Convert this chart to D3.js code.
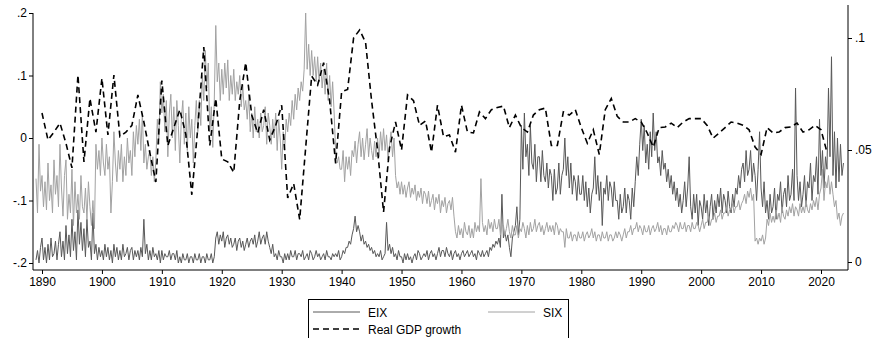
<!DOCTYPE html>
<html>
<head>
<meta charset="utf-8">
<script src="https://cdn.jsdelivr.net/npm/d3@7"></script>
<style>
  body { margin: 0; background: #fff; }
  svg { display: block; font-family: "Liberation Sans", Arial, sans-serif; }
  .tick text { font-size: 12px; fill: #000; }
  .tick line { stroke: #000; }
</style>
</head>
<body>
<svg id="chart" width="875" height="338"></svg>
<script>
// quarterly values, first one is 1889 Q1
var startYear = 1889;
var perYear = 4;

var eix = [
  -.195,-.180,-.200,-.175, -.160,-.195,-.175,-.200, -.170,-.195,-.160,-.190, -.185,-.165,-.195,-.170,
  -.150,-.190,-.165,-.195, -.140,-.185,-.155,-.190, -.130,-.180,-.150,-.195, -.115,-.170,-.135,-.180,
  -.145,-.190,-.130,-.175, -.165,-.195,-.120,-.185, -.170,-.195,-.175,-.190, // 1899
  -.180,-.195,-.170,-.190, -.175,-.195,-.180,-.200, -.170,-.190,-.175,-.195, -.180,-.195,-.170,-.190,
  -.185,-.175,-.195,-.180, -.175,-.195,-.180,-.190, -.180,-.195,-.175,-.190, -.130,-.185,-.170,-.195,
  -.180,-.195,-.175,-.190, -.185,-.195,-.180,-.200, // 1909
  -.180,-.195,-.185,-.190, -.190,-.180,-.195,-.185, -.185,-.195,-.180,-.200, -.190,-.200,-.185,-.195,
  -.195,-.185,-.200,-.190, -.190,-.200,-.185,-.195, -.195,-.185,-.200,-.190, -.190,-.200,-.185,-.195,
  -.195,-.185,-.200,-.190, -.160,-.150,-.170,-.155, // 1919
  -.165,-.150,-.175,-.160, -.155,-.170,-.160,-.175, -.170,-.160,-.180,-.165, -.160,-.175,-.165,-.180,
  -.170,-.160,-.175,-.165, -.160,-.170,-.155,-.175, -.165,-.150,-.170,-.160, -.155,-.170,-.150,-.165,
  -.175,-.185,-.170,-.190, -.185,-.195,-.180,-.190, // 1929
  -.190,-.200,-.185,-.195, -.185,-.195,-.180,-.190, -.190,-.180,-.195,-.185, -.185,-.190,-.180,-.195,
  -.190,-.185,-.195,-.180, -.185,-.195,-.190,-.180, -.190,-.185,-.195,-.190, -.185,-.195,-.180,-.190,
  -.190,-.195,-.185,-.190, -.185,-.190,-.180,-.195, // 1939
  -.190,-.180,-.185,-.175, -.175,-.165,-.170,-.155, -.145,-.125,-.150,-.140, -.150,-.165,-.155,-.170,
  -.165,-.175,-.170,-.180, -.175,-.185,-.180,-.190, -.185,-.190,-.180,-.195, -.190,-.185,-.135,-.180,
  -.170,-.185,-.175,-.190, -.185,-.195,-.180,-.190, // 1949
  -.190,-.200,-.185,-.195, -.185,-.195,-.190,-.200, -.190,-.185,-.195,-.180, -.185,-.195,-.190,-.185,
  -.190,-.180,-.195,-.185, -.180,-.190,-.185,-.195, -.185,-.175,-.190,-.180, -.180,-.190,-.175,-.185,
  -.190,-.180,-.195,-.185, -.180,-.190,-.185,-.195, // 1959
  -.185,-.180,-.190,-.185, -.180,-.190,-.185,-.180, -.190,-.185,-.195,-.180, -.185,-.190,-.180,-.190,
  -.185,-.180,-.190,-.175, -.180,-.170,-.175,-.165, -.170,-.160,-.175,-.090, -.160,-.150,-.165,-.155,
  -.175,-.190,-.160,-.150, -.140,-.110,-.155,-.130, // 1969
  .020,-.050,.040,-.030, -.010,-.060,.020,-.040, -.050,-.010,-.070,-.030, -.030,-.070,-.020,-.060,
  -.070,-.040,-.080,-.050, -.060,-.100,-.050,-.090, -.080,-.040,-.090,-.060, -.050,.000,-.060,-.030,
  -.080,-.040,-.090,-.060, -.070,-.100,-.060,-.090, // 1979
  -.090,-.060,-.100,-.070, -.110,-.080,-.120,-.090, -.080,-.030,-.090,-.060, -.100,-.070,-.140,-.080,
  -.090,-.060,-.100,-.070, -.080,-.110,-.070,-.100, -.100,-.130,-.090,-.120, -.110,-.080,-.120,-.090,
  -.100,-.130,-.080,-.110, -.070,-.030,-.060,-.010, // 1989
  .030,-.020,.020,-.040, -.010,-.050,.010,-.030, .040,-.020,.010,-.040, -.030,-.060,-.020,-.050,
  -.040,-.070,-.050,-.080, -.060,-.090,-.070,-.100, -.080,-.110,-.090,-.120, -.100,-.070,-.110,-.080,
  -.030,-.110,-.130,-.090, -.120,-.090,-.140,-.100, // 1999
  -.110,-.130,-.090,-.120, -.100,-.140,-.110,-.090, -.130,-.100,-.120,-.090, -.110,-.080,-.120,-.090,
  -.100,-.120,-.085,-.110, -.120,-.090,-.110,-.080, -.090,-.060,-.080,-.050, -.040,-.070,-.020,-.060,
  -.050,-.020,-.070,-.040, -.060,-.100,-.050,.010, // 2009
  -.080,-.110,-.070,-.120, -.100,-.130,-.090,-.120, -.110,-.080,-.130,-.090, -.100,-.070,-.120,-.090,
  -.080,-.110,-.060,-.100, -.090,-.050,-.100,.080, -.060,-.100,-.070,-.110, -.090,-.060,-.110,-.070,
  -.080,-.040,-.100,-.060, -.070,-.030,-.090,.030, // 2019
  -.060,-.020,-.080,-.030, -.050,.080,-.030,.130, -.060,.010,-.080,.000, -.070,-.010,-.060,-.040
];

var six = [
  -.065,-.120,-.010,-.085, -.060,-.110,-.070,-.115, -.040,-.100,-.075,-.120, -.035,-.090,-.060,-.110,
  -.010,-.080,-.125,-.060, -.035,-.130,-.090,-.120, -.050,-.140,-.070,-.120, -.090,-.130,-.060,-.110,
  -.120,-.080,-.130,-.070, -.110,-.140,-.100,-.145, -.010,-.050,-.020,-.060, // 1899
  .000,-.040,-.060,-.010, -.050,-.030,-.120,-.070, .010,-.040,-.070,-.020, -.050,-.010,-.070,-.030,
  -.060,.000,-.040,-.020, -.060,.010,-.030,.020, -.010,.030,-.020,.040, -.040,-.010,-.050,-.030,
  -.020,-.060,-.030,-.070, -.035,.030,-.010,.090, // 1909
  .040,.070,.010,.060, -.030,.040,.070,.000, .050,-.020,.060,.020, -.040,.030,.060,-.010,
  .040,-.020,.050,.000, .030,-.040,.020,.060, .010,.060,.020,.100, .060,.140,.080,.120,
  .010,.050,-.015,.060, .180,.090,.120,.060, // 1919
  .110,.070,.120,.080, .125,.060,.100,.070, .110,.060,.090,.070, .100,.050,.085,.045,
  .060,.030,.070,.010, .040,.000,.050,.010, .030,.000,.040,.010, .020,.050,-.010,.040,
  .020,-.010,.030,.000, .040,-.020,.030,.000, // 1929
  -.050,.010,-.020,.030, .010,.040,.020,.060, .030,.070,.045,.080, .060,.090,.075,.110,
  .200,.110,.150,.100, .140,.100,.130,.090, .130,.090,.120,.080, .110,.070,.120,.060,
  .100,.050,.090,.040, -.020,-.040,-.030,-.050, // 1939
  -.050,-.020,-.070,-.030, -.050,-.030,-.060,-.020, -.030,-.005,-.040,-.010, .010,-.030,.000,-.035,
  -.010,.015,-.030,.000, -.020,-.035,-.005,-.030, .000,-.030,.010,-.020, .015,-.020,.005,-.035,
  -.010,.010,-.030,.000, -.060,-.080,-.070,-.090, // 1949
  -.070,-.090,-.075,-.095, -.080,-.070,-.095,-.080, -.090,-.075,-.100,-.085, -.095,-.080,-.105,-.085,
  -.090,-.105,-.085,-.110, -.100,-.090,-.115,-.095, -.105,-.090,-.120,-.100, -.110,-.095,-.120,-.105,
  -.100,-.115,-.095,-.125, -.150,-.160,-.140,-.155, // 1959
  -.145,-.160,-.135,-.150, -.155,-.140,-.160,-.145, -.160,-.135,-.150,-.140, -.150,-.065,-.135,-.150,
  -.140,-.155,-.130,-.145, -.135,-.150,-.130,-.145, -.145,-.130,-.155,-.140, -.140,-.155,-.145,-.130,
  -.150,-.160,-.140,-.155, -.155,-.140,-.160,-.145, // 1969
  -.150,-.135,-.145,-.160, -.140,-.155,-.135,-.150, -.145,-.130,-.150,-.140, -.135,-.150,-.140,-.155,
  -.145,-.135,-.150,-.140, -.150,-.140,-.155,-.135, -.140,-.155,-.145,-.150, -.150,-.175,-.145,-.160,
  -.160,-.150,-.165,-.155, -.155,-.165,-.150,-.160, // 1979
  -.160,-.150,-.165,-.155, -.150,-.160,-.155,-.145, -.160,-.150,-.165,-.155, -.155,-.165,-.150,-.160,
  -.160,-.150,-.165,-.155, -.155,-.165,-.160,-.150, -.160,-.150,-.155,-.165, -.155,-.145,-.160,-.150,
  -.150,-.140,-.155,-.145, -.145,-.135,-.150,-.140, // 1989
  -.145,-.155,-.140,-.150, -.150,-.140,-.155,-.145, -.140,-.150,-.145,-.135, -.150,-.140,-.155,-.145,
  -.145,-.155,-.140,-.150, -.150,-.140,-.145,-.135, -.140,-.150,-.135,-.145, -.145,-.135,-.150,-.140,
  -.140,-.150,-.135,-.145, -.145,-.135,-.140,-.150, // 1999
  -.140,-.130,-.145,-.135, -.135,-.125,-.140,-.130, -.130,-.120,-.135,-.125, -.125,-.115,-.130,-.120,
  -.120,-.110,-.125,-.115, -.115,-.105,-.120,-.110, -.110,-.100,-.115,-.105, -.100,-.090,-.105,-.085,
  -.095,-.080,-.100,-.090, -.165,-.160,-.170,-.160, // 2009
  -.165,-.155,-.170,-.160, -.130,-.140,-.120,-.135, -.125,-.135,-.115,-.130, -.120,-.135,-.110,-.125,
  -.130,-.115,-.125,-.110, -.120,-.105,-.125,-.110, -.115,-.125,-.105,-.120, -.110,-.120,-.100,-.115,
  -.120,-.105,-.115,-.100, -.110,-.095,-.115,-.090, // 2019
  -.080,-.050,-.100,-.070, -.080,-.060,-.090,-.070, -.090,-.110,-.100,-.130, -.120,-.140,-.125,-.120
];

// annual real GDP growth, 1890-2021 (right axis)
var gdpStart = 1890;
var gdp = [
  .0665,.0545,.058,.062,.053,.042,.0835,.0447,.073,.058,
  .082,.0567,.0835,.056,.058,.061,.0746,.0625,.0487,.0357,
  .081,.052,.060,.068,.057,.030,.060,.096,.052,.073,
  .046,.0447,.040,.072,.089,.0656,.0576,.068,.0545,.061,
  .070,.0286,.035,.019,.051,.083,.079,.089,.072,.044,
  .076,.077,.100,.1036,.098,.072,.050,.0223,.051,.0625,
  .050,.0746,.072,.061,.063,.049,.070,.056,.0567,.049,
  .070,.058,.0576,.067,.064,.068,.069,.0696,.060,.0656,
  .060,.058,.0656,.068,.0687,.052,.052,.067,.0656,.068,
  .060,.053,.059,.048,.068,.073,.065,.0625,.0625,.064,
  .0625,.0576,.0513,.060,.0603,.062,.060,.0625,.064,.064,
  .064,.061,.0553,.0576,.060,.0625,.062,.061,.059,.0513,
  .048,.060,.0576,.058,.060,.0603,.062,.058,.059,.061,
  .059,.049
];

var yearTicks = d3.range(1890, 2021, 10);
var leftTicks = [-.2, -.1, 0, .1, .2];
var rightTicks = [0, .05, .1];

var svg = d3.select("#chart");

var x = d3.scaleLinear().domain([1890, 2020]).range([42, 821]);
var yL = d3.scaleLinear().domain([-0.2, 0.2]).range([263, 13]);
var yR = d3.scaleLinear().domain([0, 0.1]).range([262, 38]);

var plotL = 33, plotR = 848, plotB = 270;

function stataFmt(d) {
  if (d === 0) return "0";
  return String(+d.toFixed(2)).replace("0.", ".");
}

// series
var lineL = d3.line().x(d => x(d[0])).y(d => yL(d[1]));
var eixPts = eix.map((v, i) => [startYear + i / perYear, v]);
var sixPts = six.map((v, i) => [startYear + i / perYear, v]);
var gdpPts = gdp.map((v, i) => [gdpStart + i, v]);

svg.append("path").attr("d", lineL(eixPts))
  .attr("fill", "none").attr("stroke", "#585858").attr("stroke-width", 1);
svg.append("path").attr("d", lineL(sixPts))
  .attr("fill", "none").attr("stroke", "#a2a2a2").attr("stroke-width", 1);
svg.append("path")
  .attr("d", d3.line().x(d => x(d[0])).y(d => yR(d[1]))(gdpPts))
  .attr("fill", "none").attr("stroke", "#000").attr("stroke-width", 1.6)
  .attr("stroke-dasharray", "6,4");

// axes
var gx = svg.append("g").attr("transform", `translate(0,${plotB})`)
  .call(d3.axisBottom(x).tickValues(yearTicks).tickFormat(d3.format("d")).tickSize(4).tickPadding(3));
gx.select(".domain").remove();
svg.append("line").attr("x1", plotL).attr("x2", plotR).attr("y1", plotB).attr("y2", plotB)
  .attr("stroke", "#000");

var gl = svg.append("g").attr("transform", `translate(${plotL},0)`)
  .call(d3.axisLeft(yL).tickValues(leftTicks).tickFormat(stataFmt).tickSize(4).tickPadding(2));
gl.select(".domain").remove();
svg.append("line").attr("x1", plotL).attr("x2", plotL).attr("y1", 13).attr("y2", plotB)
  .attr("stroke", "#000");

var gr = svg.append("g").attr("transform", `translate(${plotR},0)`)
  .call(d3.axisRight(yR).tickValues(rightTicks).tickFormat(stataFmt).tickSize(4).tickPadding(3));
gr.select(".domain").remove();
svg.append("line").attr("x1", plotR).attr("x2", plotR).attr("y1", 5).attr("y2", plotB)
  .attr("stroke", "#000");

// legend
var lg = svg.append("g");
lg.append("rect").attr("x", 308.5).attr("y", 299.5).attr("width", 260).attr("height", 60)
  .attr("fill", "none").attr("stroke", "#000");
var legendItems = [
  { name: "EIX", x: 313, y: 312, color: "#585858", w: 1, dash: null },
  { name: "SIX", x: 488, y: 312, color: "#a2a2a2", w: 1, dash: null },
  { name: "Real GDP growth", x: 313, y: 329, color: "#000", w: 1.6, dash: "6,4" }
];
legendItems.forEach(function (it) {
  lg.append("line").attr("x1", it.x).attr("x2", it.x + 47).attr("y1", it.y).attr("y2", it.y)
    .attr("stroke", it.color).attr("stroke-width", it.w).attr("stroke-dasharray", it.dash);
  lg.append("text").attr("x", it.name === "SIX" ? 543 : it.x + 55).attr("y", it.y + 4.5)
    .attr("font-size", 12).attr("fill", "#000").text(it.name);
});
</script>
</body>
</html>
